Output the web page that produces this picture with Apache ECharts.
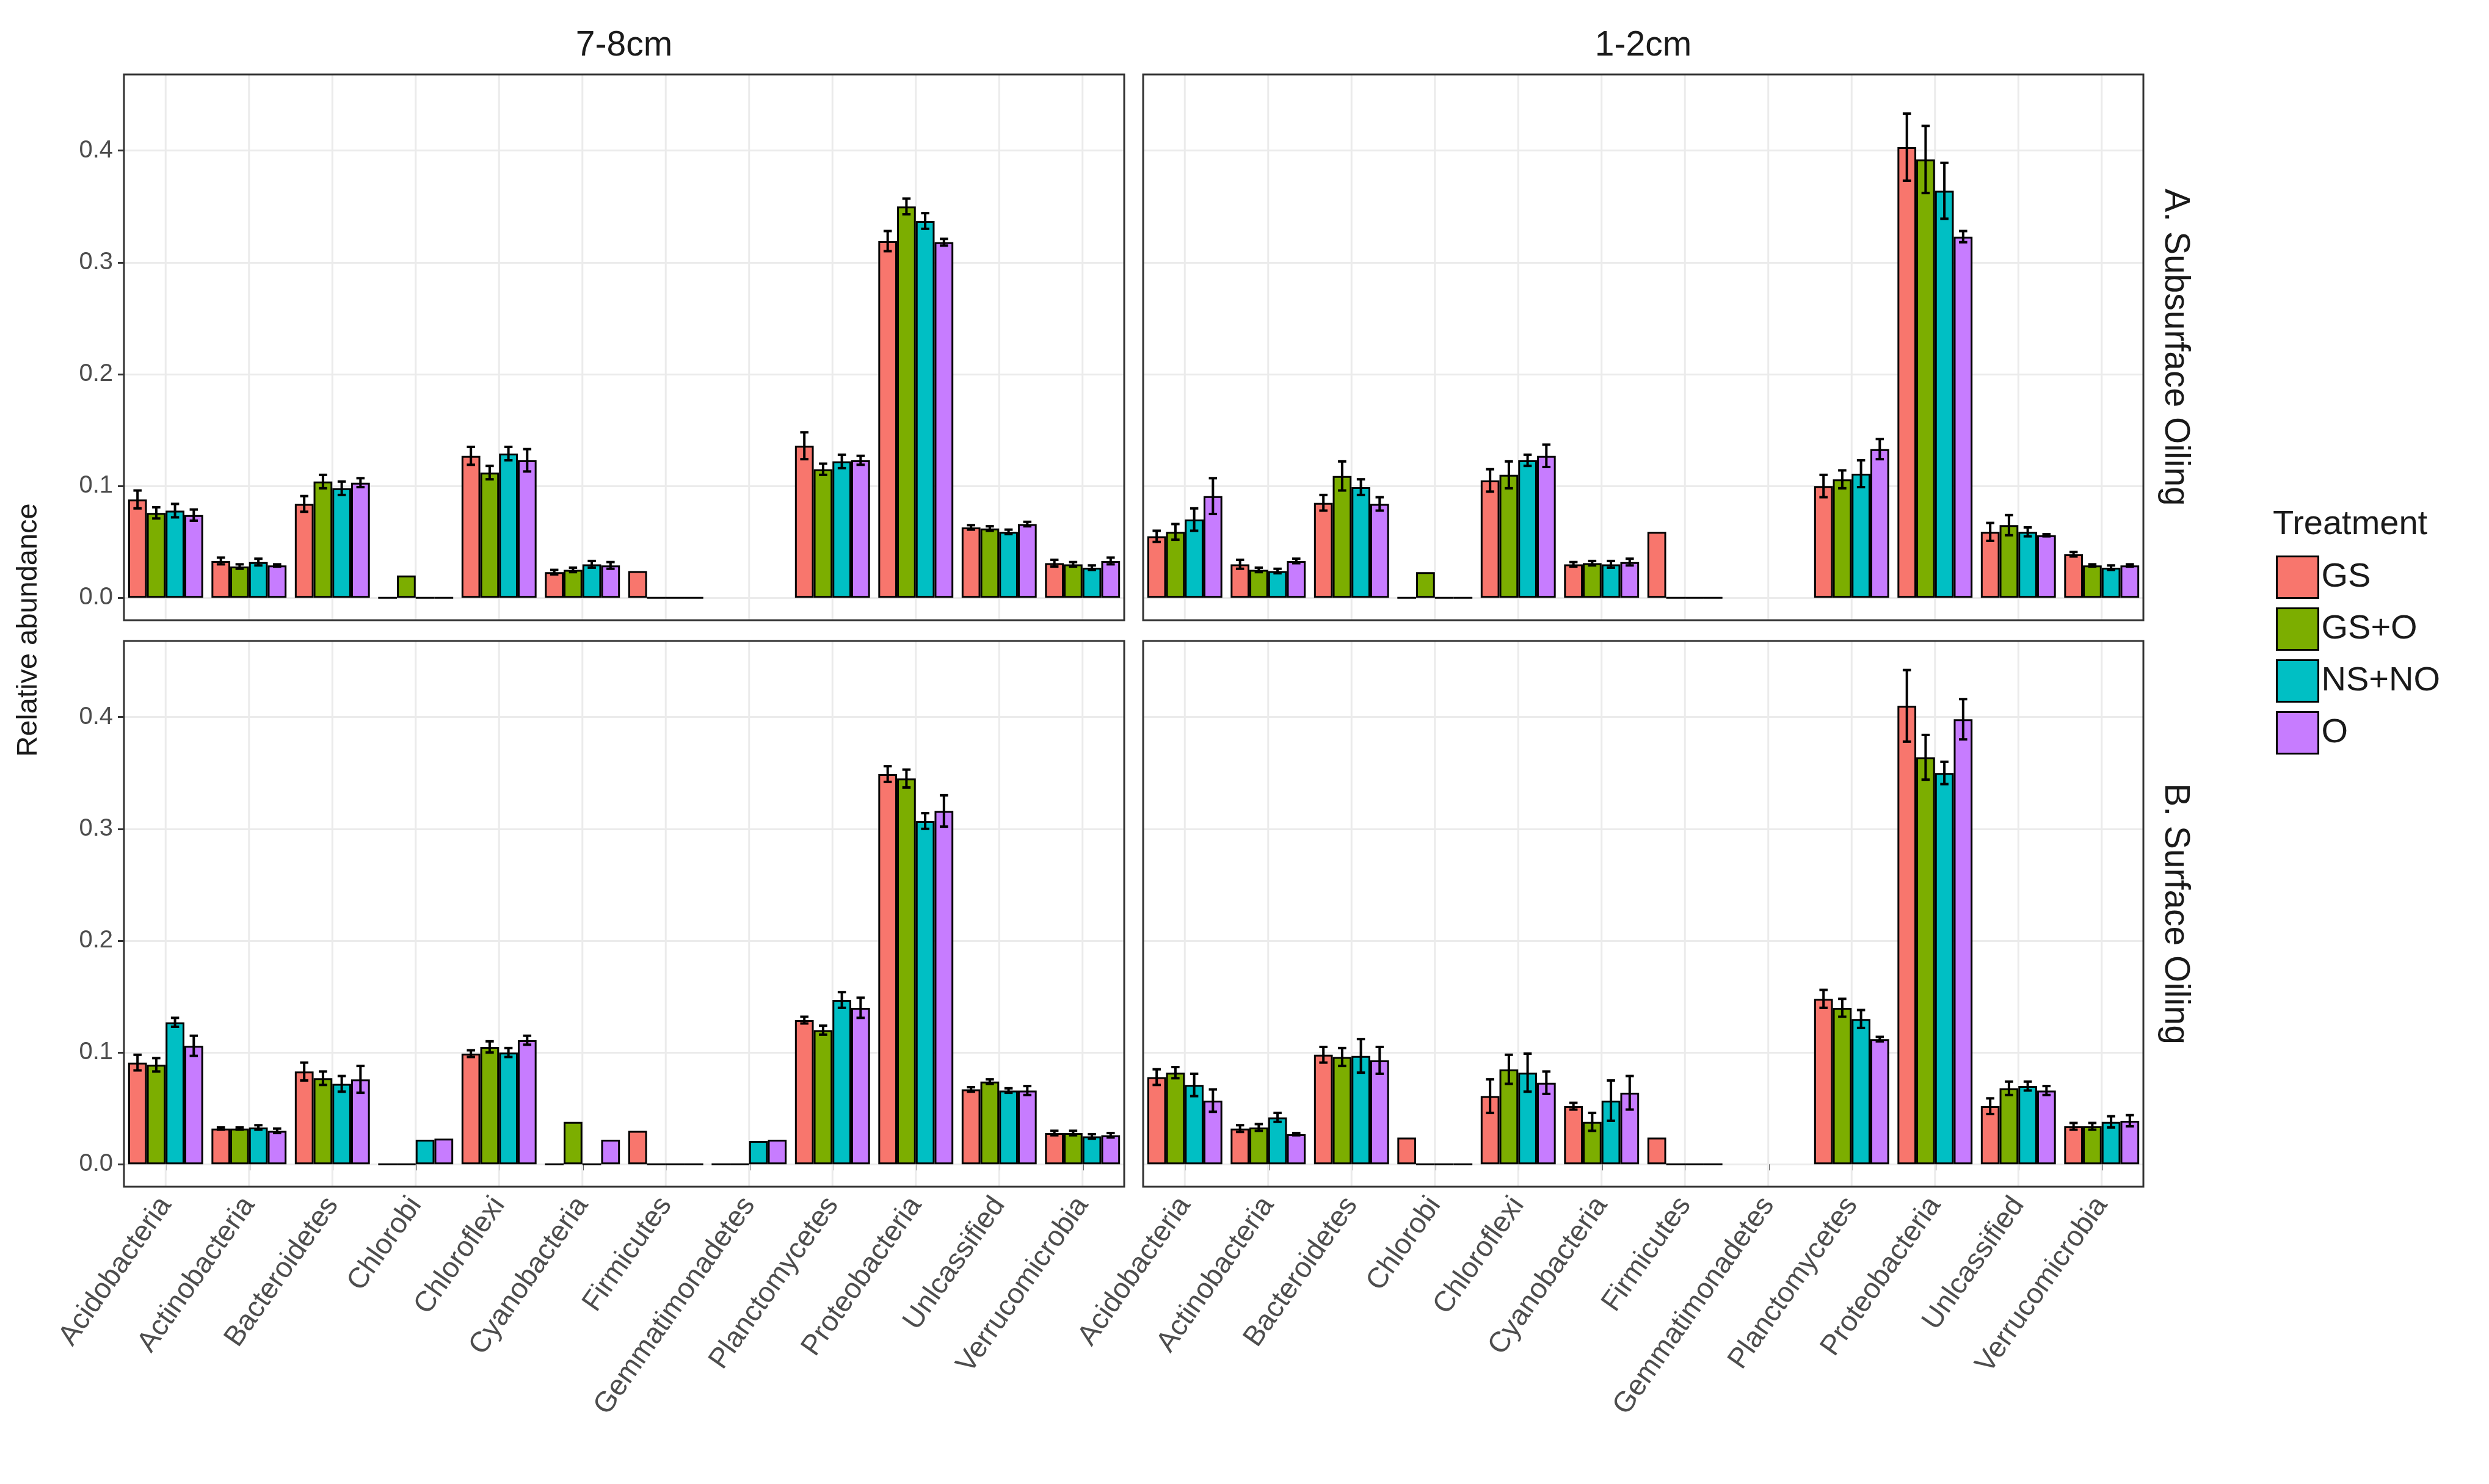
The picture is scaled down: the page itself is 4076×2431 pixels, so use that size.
<!DOCTYPE html>
<html><head><meta charset="utf-8">
<script src="https://cdn.jsdelivr.net/npm/echarts@6/dist/echarts.min.js"></script>
<style>html,body{margin:0;padding:0;background:#fff}#c{width:4076px;height:2431px}</style>
</head><body><div id="c"></div>
<script>
var categories=['Acidobacteria','Actinobacteria','Bacteroidetes','Chlorobi','Chloroflexi','Cyanobacteria','Firmicutes','Gemmatimonadetes','Planctomycetes','Proteobacteria','Unlcassified','Verrucomicrobia'];
var treatments=['GS','GS+O','NS+NO','O'];
var colors=['#F8766D','#7CAE00','#00BFC4','#C77CFF'];
var depths=['7-8cm','1-2cm'];
var oilings=['A. Subsurface Oiling','B. Surface Oiling'];
var yTicks=[0,0.1,0.2,0.3,0.4];
var A78_GS  =[0.088,0.033,0.084,0,0.127,0.023,0.024,null,0.136,0.319,0.063,0.031];
var A78_GSO =[0.076,0.028,0.104,0.020,0.112,0.025,0,null,0.115,0.350,0.062,0.030];
var A78_NS  =[0.078,0.032,0.098,0,0.129,0.030,0,null,0.122,0.337,0.059,0.027];
var A78_O   =[0.074,0.029,0.103,0,0.123,0.029,0,null,0.123,0.318,0.066,0.033];
var A12_GS  =[0.055,0.030,0.085,0,0.105,0.030,0.059,null,0.100,0.403,0.059,0.039];
var A12_GSO =[0.059,0.025,0.109,0.023,0.110,0.031,0,null,0.106,0.392,0.065,0.029];
var A12_NS  =[0.070,0.024,0.099,0,0.123,0.030,0,null,0.111,0.364,0.059,0.027];
var A12_O   =[0.091,0.033,0.084,0,0.127,0.032,0,null,0.133,0.323,0.056,0.029];
var B78_GS  =[0.091,0.032,0.083,0,0.099,0,0.030,0,0.129,0.349,0.067,0.028];
var B78_GSO =[0.089,0.032,0.077,0,0.105,0.038,0,0,0.120,0.345,0.074,0.028];
var B78_NS  =[0.127,0.033,0.072,0.022,0.100,0,0,0.021,0.147,0.307,0.066,0.025];
var B78_O   =[0.106,0.030,0.076,0.023,0.111,0.022,0,0.022,0.140,0.316,0.066,0.026];
var B12_GS  =[0.078,0.032,0.098,0.024,0.061,0.052,0.024,null,0.148,0.410,0.052,0.034];
var B12_GSO =[0.082,0.033,0.096,0,0.085,0.038,0,null,0.140,0.364,0.068,0.034];
var B12_NS  =[0.071,0.042,0.097,0,0.082,0.057,0,null,0.130,0.350,0.070,0.038];
var B12_O   =[0.057,0.027,0.093,0,0.073,0.064,0,null,0.112,0.398,0.066,0.039];
var A78_GS_e  =[0.008,0.003,0.007,0,0.008,0.002,0,0,0.012,0.009,0.002,0.003];
var A78_GSO_e =[0.005,0.002,0.006,0,0.006,0.002,0,0,0.005,0.007,0.002,0.002];
var A78_NS_e  =[0.006,0.003,0.006,0,0.006,0.003,0,0,0.006,0.007,0.002,0.002];
var A78_O_e   =[0.005,0.001,0.004,0,0.010,0.003,0,0,0.004,0.003,0.002,0.003];
var A12_GS_e  =[0.005,0.004,0.007,0,0.010,0.002,0,0,0.010,0.030,0.008,0.002];
var A12_GSO_e =[0.007,0.002,0.013,0,0.012,0.002,0,0,0.008,0.030,0.009,0.001];
var A12_NS_e  =[0.010,0.002,0.007,0,0.005,0.003,0,0,0.012,0.025,0.004,0.002];
var A12_O_e   =[0.016,0.002,0.006,0,0.010,0.003,0,0,0.009,0.005,0.001,0.001];
var B78_GS_e  =[0.007,0.001,0.008,0,0.003,0,0,0,0.003,0.007,0.002,0.002];
var B78_GSO_e =[0.006,0.001,0.006,0,0.005,0,0,0,0.004,0.008,0.002,0.002];
var B78_NS_e  =[0.004,0.002,0.007,0,0.004,0,0,0,0.007,0.007,0.002,0.002];
var B78_O_e   =[0.009,0.002,0.012,0,0.004,0,0,0,0.009,0.014,0.004,0.002];
var B12_GS_e  =[0.007,0.003,0.007,0,0.015,0.003,0,0,0.008,0.032,0.007,0.003];
var B12_GSO_e =[0.005,0.003,0.008,0,0.013,0.008,0,0,0.008,0.020,0.006,0.003];
var B12_NS_e  =[0.010,0.004,0.015,0,0.017,0.018,0,0,0.008,0.010,0.004,0.005];
var B12_O_e   =[0.010,0.001,0.012,0,0.010,0.015,0,0,0.002,0.018,0.004,0.005];

var panels=[[A78_GS,A78_GSO,A78_NS,A78_O],[A12_GS,A12_GSO,A12_NS,A12_O],[B78_GS,B78_GSO,B78_NS,B78_O],[B12_GS,B12_GSO,B12_NS,B12_O]];
var panelErr=[[A78_GS_e,A78_GSO_e,A78_NS_e,A78_O_e],[A12_GS_e,A12_GSO_e,A12_NS_e,A12_O_e],[B78_GS_e,B78_GSO_e,B78_NS_e,B78_O_e],[B12_GS_e,B12_GSO_e,B12_NS_e,B12_O_e]];

var font='"Liberation Sans", Arial, sans-serif';
var gl=[203,1872], gt=[122,1050], gw=1638, gh=894;
var grids=[],xAxes=[],yAxes=[],series=[],graphics=[];
for(var p=0;p<4;p++){
  var col=p%2,row=Math.floor(p/2);
  grids.push({left:gl[col],top:gt[row],width:gw,height:gh});
  graphics.push({type:'rect',shape:{x:gl[col],y:gt[row],width:gw,height:gh},style:{fill:null,stroke:'#333',lineWidth:3},z:100});
  xAxes.push({type:'category',gridIndex:p,data:categories,boundaryGap:true,
    axisLine:{show:false},
    axisTick:{show:row==1,alignWithLabel:true,length:10,lineStyle:{color:'#333',width:3}},
    axisLabel:{show:row==1,rotate:55,fontSize:47,color:'#4d4d4d',fontFamily:font,margin:22,interval:0},
    splitLine:{show:false}});
  yAxes.push({type:'value',gridIndex:p,min:-0.02,max:0.468,
    axisLine:{show:false},
    axisTick:{show:col==0,customValues:yTicks,length:10,lineStyle:{color:'#333',width:3}},
    axisLabel:{show:col==0,customValues:yTicks,fontSize:40,color:'#4d4d4d',fontFamily:font,margin:18,formatter:function(v){return v.toFixed(1);}},
    splitLine:{show:true,lineStyle:{color:'#ebebeb',width:3}}});
  series.push({type:'custom',name:'vgrid'+p,xAxisIndex:p,yAxisIndex:p,z:1,silent:true,
    data:categories.map(function(c,i){return [i,0];}),encode:{x:0,y:1},
    renderItem:function(params,api){
      var cs=params.coordSys;var x=api.coord([api.value(0),0])[0];
      return {type:'line',shape:{x1:x,y1:cs.y,x2:x,y2:cs.y+cs.height},style:{stroke:'#ebebeb',lineWidth:3}};
    }});
  for(var t=0;t<4;t++){
    series.push({type:'bar',name:treatments[t],xAxisIndex:p,yAxisIndex:p,data:panels[p][t],
      barGap:'0%',barCategoryGap:'10%',itemStyle:{color:colors[t],borderColor:'#000',borderWidth:3},z:3});
  }
  for(var t=0;t<4;t++){
    var d=[];
    panels[p][t].forEach(function(v,i){var e=panelErr[p][t][i]; if(v!==null&&e>0)d.push([i,v,e]);});
    (function(idx){
    series.push({type:'custom',name:'err'+p+'_'+idx,xAxisIndex:p,yAxisIndex:p,data:d,z:5,
      encode:{x:0,y:1},
      renderItem:function(params,api){
        var c=api.value(0),v=api.value(1),e=api.value(2);
        var a=api.coord([c,v+e]),b=api.coord([c,v-e]);
        var band=api.size([1,0])[0];var bw=band*0.9/4;
        var x=a[0]+(idx-1.5)*bw;var hw=bw*0.22;
        var st={stroke:'#000',lineWidth:4};
        return {type:'group',children:[
          {type:'line',shape:{x1:x,y1:a[1],x2:x,y2:b[1]},style:st},
          {type:'line',shape:{x1:x-hw,y1:a[1],x2:x+hw,y2:a[1]},style:st},
          {type:'line',shape:{x1:x-hw,y1:b[1],x2:x+hw,y2:b[1]},style:st}]};
      }});
    })(t);
  }
}
var tstyle={fill:'#1a1a1a',fontSize:57,fontFamily:font};
graphics=graphics.concat([
  {type:'text',x:gl[0]+gw/2,y:75,style:Object.assign({text:depths[0],align:'center',verticalAlign:'middle'},tstyle)},
  {type:'text',x:gl[1]+gw/2,y:75,style:Object.assign({text:depths[1],align:'center',verticalAlign:'middle'},tstyle)},
  {type:'text',x:3562,y:gt[0]+gh/2,rotation:-Math.PI/2,style:Object.assign({text:oilings[0],align:'center',verticalAlign:'middle'},tstyle)},
  {type:'text',x:3562,y:gt[1]+gh/2,rotation:-Math.PI/2,style:Object.assign({text:oilings[1],align:'center',verticalAlign:'middle'},tstyle)},
  {type:'text',x:47,y:1032,rotation:Math.PI/2,style:{text:'Relative abundance',align:'center',verticalAlign:'middle',fill:'#1a1a1a',fontSize:47,fontFamily:font}},
  {type:'text',left:3722,top:832,style:{text:'Treatment',fill:'#1a1a1a',fontSize:56,fontFamily:font}}
]);
var chart=echarts.init(document.getElementById('c'));
chart.setOption({animation:false,backgroundColor:'#fff',grid:grids,xAxis:xAxes,yAxis:yAxes,series:series,graphic:graphics,
  legend:{data:treatments,orient:'vertical',left:3722,top:905,itemWidth:68,itemHeight:68,itemGap:14,
    icon:'rect',itemStyle:{borderColor:'#000',borderWidth:3},
    textStyle:{fontSize:56,color:'#1a1a1a',fontFamily:font}}});
</script></body></html>
